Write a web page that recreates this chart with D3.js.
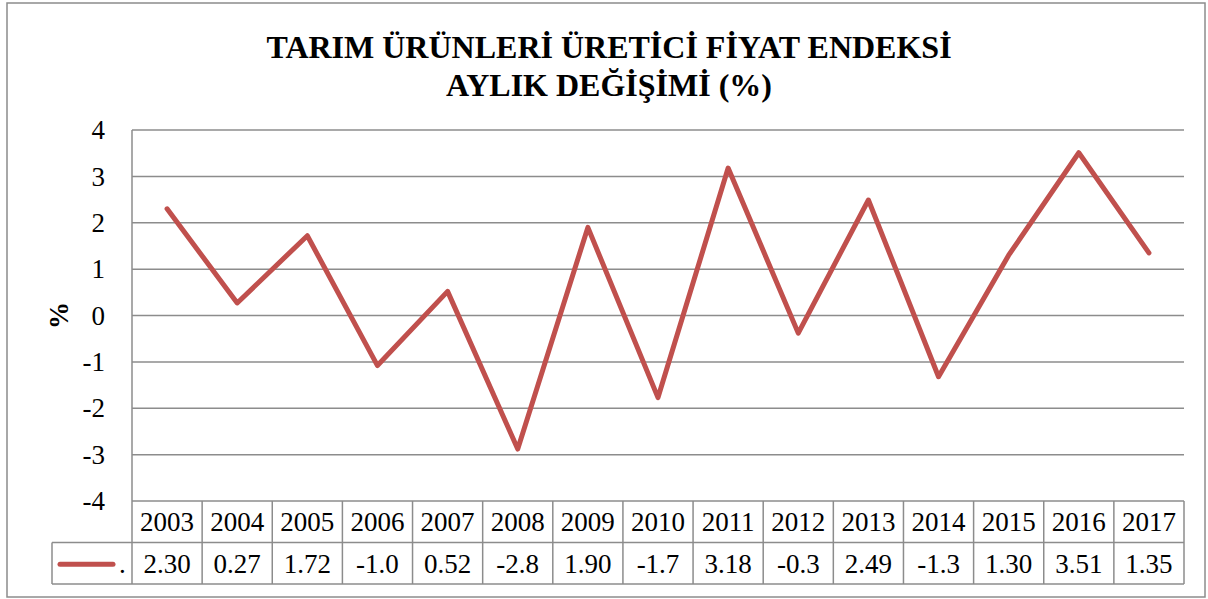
<!DOCTYPE html>
<html>
<head>
<meta charset="utf-8">
<script src="https://cdn.jsdelivr.net/npm/d3@7"></script>
<style>
  body { margin: 0; background: #fff; }
</style>
</head>
<body>
<div id="container"></div>
<script>
/* DATA */
const years = ["2003", "2004", "2005", "2006", "2007", "2008", "2009", "2010",
  "2011", "2012", "2013", "2014", "2015", "2016", "2017"];
const values = [2.30, 0.27, 1.72, -1.08, 0.52, -2.88, 1.90, -1.77,
  3.18, -0.38, 2.49, -1.32, 1.30, 3.51, 1.35];
// labels as printed in the data table (cut to width)
const valueLabels = ["2.30", "0.27", "1.72", "-1.0", "0.52", "-2.8", "1.90", "-1.7",
  "3.18", "-0.3", "2.49", "-1.3", "1.30", "3.51", "1.35"];
const yTicks = [-4, -3, -2, -1, 0, 1, 2, 3, 4];
const seriesName = ".";
const titleLines = ["TARIM ÜRÜNLERİ ÜRETİCİ FİYAT ENDEKSİ", "AYLIK DEĞİŞİMİ (%)"];

/* CONSTANTS */
const width = 1208, height = 599;
const plot = { left: 132, right: 1184, top: 130, bottom: 501 };
const rowH = 41.5;
const legendLeft = 52;
const gridColor = "#8c8c8c";
const lineColor = "#C0504D";
const serif = '"Liberation Serif", "Times New Roman", serif';

const svg = d3.select("#container")
  .append("svg")
  .attr("width", width)
  .attr("height", height);

// chart border
svg.append("rect")
  .attr("x", 7).attr("y", 3)
  .attr("width", 1198).attr("height", 594)
  .attr("fill", "none")
  .attr("stroke", gridColor)
  .attr("stroke-width", 1.5);

/* SCALES */
const xScale = d3.scaleBand()
  .domain(years)
  .range([plot.left, plot.right]);

const yScale = d3.scaleLinear()
  .domain([-4, 4])
  .range([plot.bottom, plot.top]);

// title
svg.append("g")
  .selectAll("text")
  .data(titleLines)
  .join("text")
  .attr("x", 609)
  .attr("y", (d, i) => 58 + i * 38)
  .attr("text-anchor", "middle")
  .style("font-family", serif)
  .style("font-size", "32px")
  .style("font-weight", "bold")
  .text(d => d);

// gridlines
svg.append("g")
  .selectAll("line")
  .data(yTicks)
  .join("line")
  .attr("x1", plot.left).attr("x2", plot.right)
  .attr("y1", d => yScale(d)).attr("y2", d => yScale(d))
  .attr("stroke", gridColor)
  .attr("stroke-width", 1.5);

// y axis labels
const yAxis = d3.axisLeft(yScale)
  .tickValues(yTicks)
  .tickSize(0)
  .tickPadding(27)
  .tickFormat(d => String(d));

svg.append("g")
  .attr("transform", `translate(${plot.left},0)`)
  .call(yAxis)
  .call(g => g.select(".domain").remove())
  .call(g => g.selectAll("text")
    .attr("fill", "#000")
    .style("font-family", serif)
    .style("font-size", "27px"));

// y axis title
svg.append("text")
  .attr("transform", `translate(68,${yScale(0)}) rotate(-90)`)
  .attr("text-anchor", "middle")
  .style("font-family", serif)
  .style("font-size", "27px")
  .style("font-weight", "bold")
  .text("%");

// data table
const tableTop = plot.bottom;
const table = svg.append("g")
  .attr("stroke", gridColor)
  .attr("stroke-width", 1.5);

// horizontal table lines
table.append("line")
  .attr("x1", legendLeft).attr("x2", plot.right)
  .attr("y1", tableTop + rowH).attr("y2", tableTop + rowH);
table.append("line")
  .attr("x1", legendLeft).attr("x2", plot.right)
  .attr("y1", tableTop + 2 * rowH).attr("y2", tableTop + 2 * rowH);
table.append("line")
  .attr("x1", legendLeft).attr("x2", legendLeft)
  .attr("y1", tableTop + rowH).attr("y2", tableTop + 2 * rowH);

// vertical lines: plot left edge and column separators
const colEdges = years.map(d => xScale(d)).concat([plot.right]);
table.selectAll(".col")
  .data(colEdges)
  .join("line")
  .attr("class", "col")
  .attr("x1", d => d).attr("x2", d => d)
  .attr("y1", (d, i) => i === 0 ? plot.top : tableTop)
  .attr("y2", tableTop + 2 * rowH);

// table header (years)
svg.append("g")
  .selectAll("text")
  .data(years)
  .join("text")
  .attr("x", d => xScale(d) + xScale.bandwidth() / 2)
  .attr("y", tableTop + 30)
  .attr("text-anchor", "middle")
  .style("font-family", serif)
  .style("font-size", "27px")
  .text(d => d);

// table values
svg.append("g")
  .selectAll("text")
  .data(valueLabels)
  .join("text")
  .attr("x", (d, i) => xScale(years[i]) + xScale.bandwidth() / 2)
  .attr("y", tableTop + rowH + 30)
  .attr("text-anchor", "middle")
  .style("font-family", serif)
  .style("font-size", "27px")
  .text(d => d);

// legend key
svg.append("line")
  .attr("x1", 60).attr("x2", 113)
  .attr("y1", tableTop + rowH * 1.5 + 1).attr("y2", tableTop + rowH * 1.5 + 1)
  .attr("stroke", lineColor)
  .attr("stroke-width", 5)
  .attr("stroke-linecap", "round");
svg.append("text")
  .attr("x", 119)
  .attr("y", tableTop + rowH + 30)
  .style("font-family", serif)
  .style("font-size", "27px")
  .text(seriesName);

// series line
const line = d3.line()
  .x((d, i) => xScale(years[i]) + xScale.bandwidth() / 2)
  .y(d => yScale(d));

svg.append("path")
  .datum(values)
  .attr("d", line)
  .attr("fill", "none")
  .attr("stroke", lineColor)
  .attr("stroke-width", 5)
  .attr("stroke-linejoin", "round")
  .attr("stroke-linecap", "round");
</script>
</body>
</html>
